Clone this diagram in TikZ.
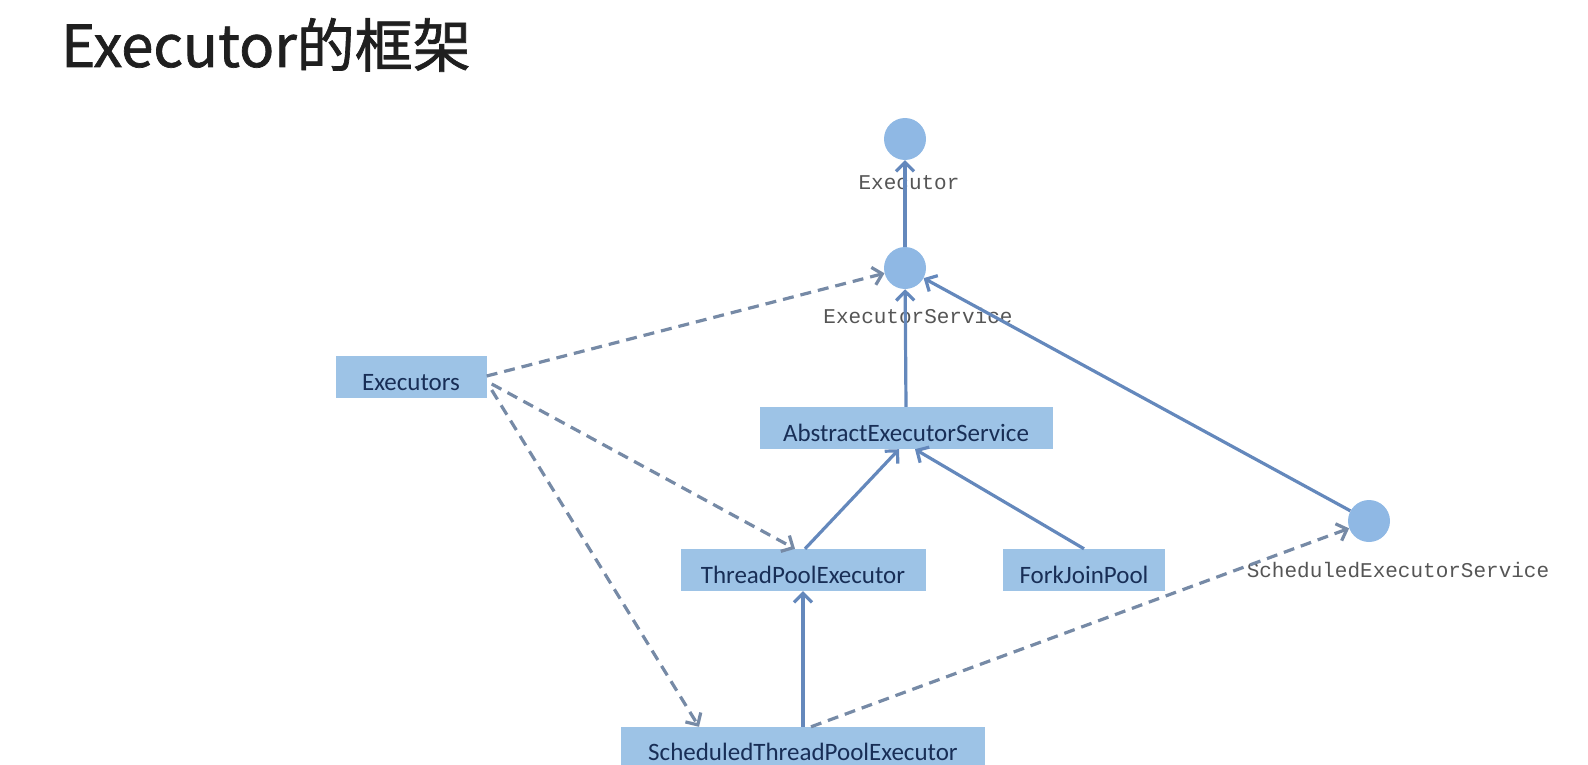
\documentclass[tikz,border=0pt]{standalone}
\usepackage{fontspec}
\setmainfont{Carlito}
\newfontfamily\cjkfont[FakeBold=1.2]{Noto Sans CJK SC}
\newfontfamily\lblfont{Liberation Mono}
\usetikzlibrary{arrows.meta,positioning}
\definecolor{clsfill}{RGB}{157,195,230}
\definecolor{ifacefill}{RGB}{143,184,228}
\definecolor{clstext}{RGB}{24,46,86}
\definecolor{lbltext}{RGB}{85,85,85}
\definecolor{linecol}{RGB}{100,136,188}
\definecolor{depcol}{RGB}{118,138,166}
\tikzset{
    iface/.style={
        circle,
        fill=ifacefill,
        minimum size=42pt,
        inner sep=0pt,
    },
    cls/.style={
        rectangle,
        fill=clsfill,
        text=clstext,
        font=\fontsize{25}{30}\selectfont,
        minimum height=42pt,
        text height=26pt,
        text depth=0pt,
        inner sep=0pt,
    },
    lbl/.style={
        font=\lblfont\fontsize{21}{24}\selectfont,
        text=lbltext,
        inner sep=0pt,
    },
    dep/.style={
        draw=depcol,
        dash pattern=on 11pt off 7pt,
    },
    every edge/.style={
        draw=linecol,
        ->,>={Straight Barb[length=9pt,width=18pt]},
        line width=3.2pt,
    },
}
\begin{document}
\begin{tikzpicture}[x=1pt,y=1pt]
    \useasboundingbox (0,0) rectangle (1588,-765);
    \node [anchor=base west, inner sep=0pt, font=\cjkfont\fontsize{58}{64}\selectfont, text=black!88] (title) at (61,-67) {Executor的框架};

    % interfaces
    \node [iface, label={[lbl,label distance=15pt,xshift=4pt]below:Executor}] (exec) at (905,-139) {};
    \node [iface, label={[lbl,label distance=19pt,xshift=13pt]below:ExecutorService}] (esvc) at (905,-268) {};
    \node [iface, label={[lbl,label distance=20pt,xshift=29pt]below:ScheduledExecutorService}] (sesvc) at (1369,-521) {};

    % classes
    \node [cls, minimum width=151pt] (execs) at (411,-377) {Executors};
    \node [cls, minimum width=293pt] (aes) at (906,-428) {AbstractExecutorService};
    \node [cls, minimum width=245pt] (tpe) at (803,-570) {ThreadPoolExecutor};
    \node [cls, minimum width=162pt] (fjp) at (1084,-570) {ForkJoinPool};
    \node [cls, minimum width=364pt, minimum height=48pt, text height=18pt] (stpe) at (803,-751) {ScheduledThreadPoolExecutor};

    \draw (esvc) edge (exec);
    \draw (aes.north) edge (esvc);
    \draw (sesvc) edge (esvc);
    \draw ([xshift=2pt]tpe.north) edge ([xshift=-7pt]aes.south);
    \draw (fjp.north) edge ([xshift=9pt]aes.south);
    \draw (stpe.north) edge (tpe.south);

    \draw ([yshift=1pt]execs.east) edge[dep] (esvc);
    \draw ([xshift=5pt,yshift=-7pt]execs.east) edge[dep] ([xshift=-8pt]tpe.north);
    \draw ([xshift=5pt,yshift=-13pt]execs.east) edge[dep] ([xshift=-104pt]stpe.north);
    \draw ([xshift=8pt]stpe.north) edge[dep] (sesvc);
\end{tikzpicture}
\end{document}
